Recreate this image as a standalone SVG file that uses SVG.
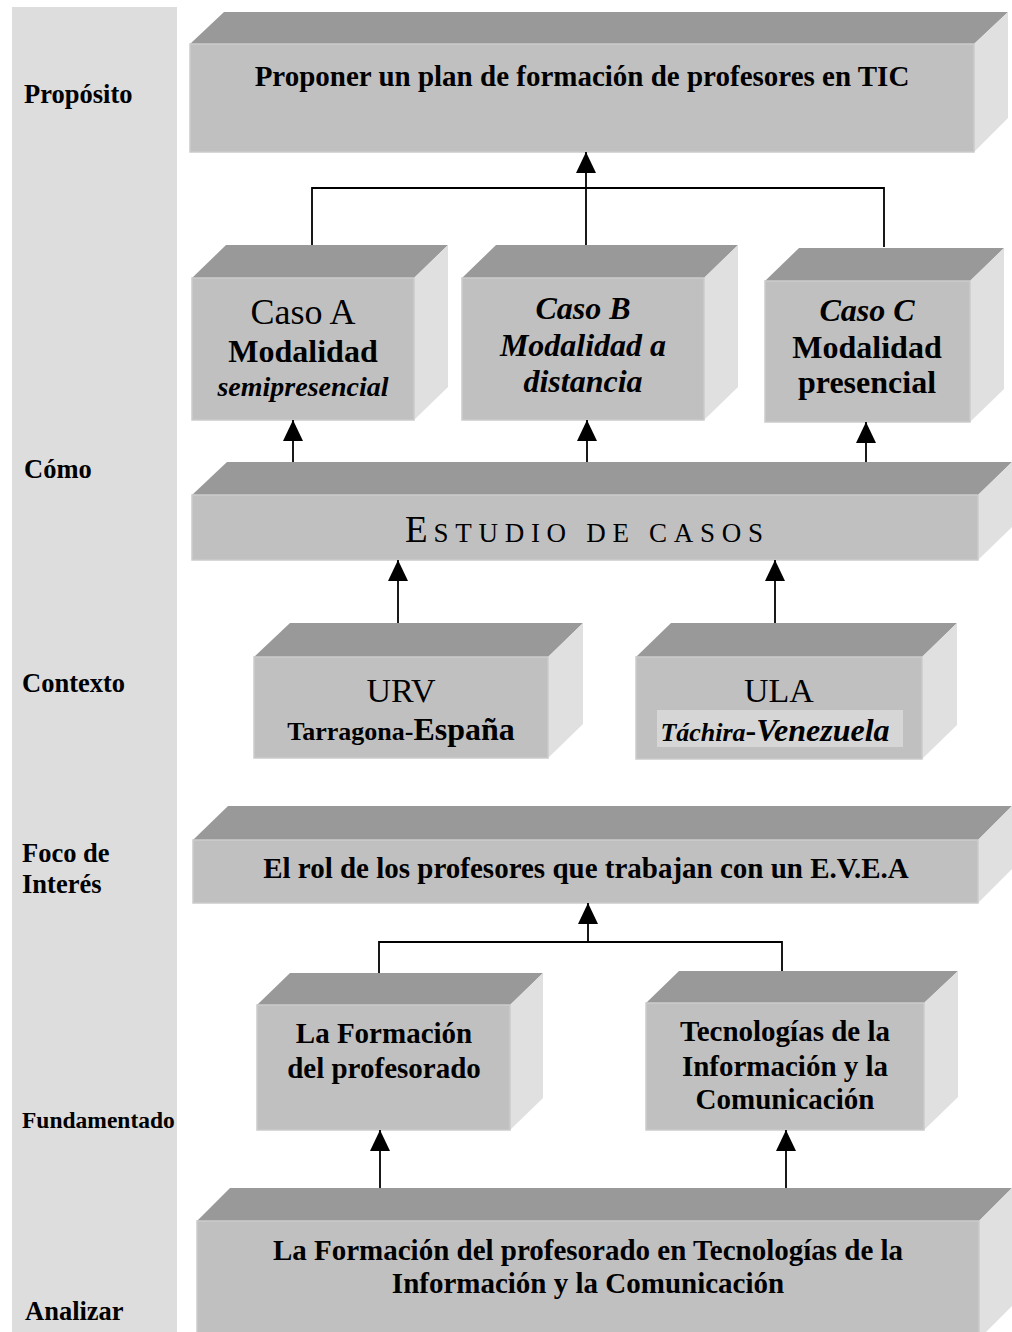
<svg xmlns="http://www.w3.org/2000/svg" width="1012" height="1332" viewBox="0 0 1012 1332">
<defs>
<style>
.bar{fill:#dddddd}
.top{fill:#999999}
.front{fill:#c0c0c0;stroke:#cbcbcb;stroke-width:1.5}
.side{fill:#e0e0e0}
.lbl{font-family:"Liberation Serif","Times New Roman",serif;font-weight:bold;font-size:26.5px;fill:#000}
.t{font-family:"Liberation Serif","Times New Roman",serif;fill:#000;text-anchor:middle}
.b{font-weight:bold}
.i{font-style:italic}
.con{fill:none;stroke:#000;stroke-width:1.8}
</style>
<marker id="ah" markerUnits="userSpaceOnUse" markerWidth="22" markerHeight="22" refX="21" refY="10" orient="auto">
<path d="M0,0 L21,10 L0,20 Z" fill="#000"/>
</marker>
</defs>
<rect class="bar" x="12" y="7" width="165" height="1325"/>
<g id="labels">
<text class="lbl" x="24" y="103">Propósito</text>
<text class="lbl" x="24" y="478">Cómo</text>
<text class="lbl" x="22" y="692">Contexto</text>
<text class="lbl" x="22" y="862">Foco de</text>
<text class="lbl" x="22" y="893">Interés</text>
<text class="lbl" x="22" y="1128" style="font-size:23.5px">Fundamentado</text>
<text class="lbl" x="25" y="1320">Analizar</text>
</g>
<g id="proposito">
<polygon class="top" points="190,44 224,12 1008,12 974,44"/>
<polygon class="side" points="974,44 1008,12 1008,118 974,152"/>
<rect class="front" x="190" y="44" width="784" height="108"/>
<text class="t b" x="582" y="86" font-size="29">Proponer un plan de formación de profesores en TIC</text>
</g>
<g id="casoA">
<polygon class="top" points="192,278 226,245 448,245 414,278"/>
<polygon class="side" points="414,278 448,245 448,387 414,420"/>
<rect class="front" x="192" y="278" width="222" height="142"/>
<text class="t" x="303" y="324" font-size="36">Caso A</text>
<text class="t b" x="303" y="362" font-size="32">Modalidad</text>
<text class="t b i" x="303" y="396" font-size="28">semipresencial</text>
</g>
<g id="casoB">
<polygon class="top" points="462,278 496,245 738,245 704,278"/>
<polygon class="side" points="704,278 738,245 738,387 704,420"/>
<rect class="front" x="462" y="278" width="242" height="142"/>
<text class="t b i" x="583" y="319" font-size="32">Caso B</text>
<text class="t b i" x="583" y="356" font-size="32">Modalidad a</text>
<text class="t b i" x="583" y="392" font-size="32">distancia</text>
</g>
<g id="casoC">
<polygon class="top" points="765,281 799,248 1004,248 970,281"/>
<polygon class="side" points="970,281 1004,248 1004,389 970,422"/>
<rect class="front" x="765" y="281" width="205" height="141"/>
<text class="t b i" x="867" y="321" font-size="32">Caso C</text>
<text class="t b" x="867" y="358" font-size="32">Modalidad</text>
<text class="t b" x="867" y="393" font-size="32">presencial</text>
</g>
<g id="estudio">
<polygon class="top" points="192,495 227,462 1012,462 978,495"/>
<polygon class="side" points="978,495 1012,462 1012,527 978,560"/>
<rect class="front" x="192" y="495" width="786" height="65"/>
<text x="405" y="542" font-family="Liberation Serif, Times New Roman, serif" fill="#000"><tspan font-size="37">E</tspan><tspan font-size="27" letter-spacing="6.7" dx="6">STUDIO DE CASOS</tspan></text>
</g>
<g id="urv">
<polygon class="top" points="254,657 290,623 583,623 548,657"/>
<polygon class="side" points="548,657 583,623 583,724 548,758"/>
<rect class="front" x="254" y="657" width="294" height="101"/>
<text class="t" x="401" y="702" font-size="34">URV</text>
<text class="t b" x="401" y="740"><tspan font-size="26">Tarragona-</tspan><tspan font-size="32">España</tspan></text>
</g>
<g id="ula">
<polygon class="top" points="636,657 671,623 957,623 922,657"/>
<polygon class="side" points="922,657 957,623 957,725 922,759"/>
<rect class="front" x="636" y="657" width="286" height="102"/>
<rect x="657" y="710" width="246" height="37" fill="#d6d6d6"/>
<text class="t" x="779" y="702" font-size="34">ULA</text>
<text class="t b i" x="775" y="741"><tspan font-size="26">Táchira</tspan><tspan font-size="32" font-style="normal">-</tspan><tspan font-size="32">Venezuela</tspan></text>
</g>
<g id="foco">
<polygon class="top" points="193,840 228,806 1012,806 978,840"/>
<polygon class="side" points="978,840 1012,806 1012,869 978,903"/>
<rect class="front" x="193" y="840" width="785" height="63"/>
<text class="t b" x="586" y="878" font-size="29">El rol de los profesores que trabajan con un E.V.E.A</text>
</g>
<g id="formacion">
<polygon class="top" points="257,1005 290,973 543,973 510,1005"/>
<polygon class="side" points="510,1005 543,973 543,1098 510,1130"/>
<rect class="front" x="257" y="1005" width="253" height="125"/>
<text class="t b" x="384" y="1043" font-size="29">La Formación</text>
<text class="t b" x="384" y="1078" font-size="29">del profesorado</text>
</g>
<g id="tic">
<polygon class="top" points="646,1003 679,971 958,971 924,1003"/>
<polygon class="side" points="924,1003 958,971 958,1097 924,1130"/>
<rect class="front" x="646" y="1003" width="278" height="127"/>
<text class="t b" x="785" y="1041" font-size="29">Tecnologías de la</text>
<text class="t b" x="785" y="1076" font-size="29">Información y la</text>
<text class="t b" x="785" y="1109" font-size="29">Comunicación</text>
</g>
<g id="analizar">
<polygon class="top" points="197,1221 230,1188 1012,1188 979,1221"/>
<polygon class="side" points="979,1221 1012,1188 1012,1306 979,1339"/>
<rect class="front" x="197" y="1221" width="782" height="118"/>
<text class="t b" x="588" y="1260" font-size="29">La Formación del profesorado en Tecnologías de la</text>
<text class="t b" x="588" y="1293" font-size="29">Información y la Comunicación</text>
</g>
<g id="connectors">
<path class="con" d="M312,245 V188 H884 V247"/>
<line class="con" x1="586" y1="245" x2="586" y2="152" marker-end="url(#ah)"/>
<line class="con" x1="293" y1="462" x2="293" y2="420" marker-end="url(#ah)"/>
<line class="con" x1="587" y1="462" x2="587" y2="420" marker-end="url(#ah)"/>
<line class="con" x1="866" y1="462" x2="866" y2="422" marker-end="url(#ah)"/>
<line class="con" x1="398" y1="623" x2="398" y2="560" marker-end="url(#ah)"/>
<line class="con" x1="775" y1="623" x2="775" y2="560" marker-end="url(#ah)"/>
<path class="con" d="M379,973 V942 H782 V971"/>
<line class="con" x1="588" y1="942" x2="588" y2="903" marker-end="url(#ah)"/>
<line class="con" x1="380" y1="1188" x2="380" y2="1130" marker-end="url(#ah)"/>
<line class="con" x1="786" y1="1188" x2="786" y2="1130" marker-end="url(#ah)"/>
</g>
</svg>
